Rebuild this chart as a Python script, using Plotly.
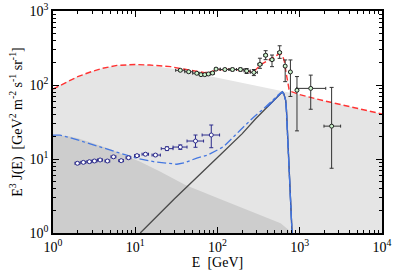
import plotly.graph_objects as go

# ---------------- data ----------------
# background (light grey area) upper edge
bg_E = [1, 1.5, 2, 3, 4, 6, 8, 10, 15, 20, 30, 40, 54, 100, 200, 400, 601, 775, 1000, 2000, 5000, 10000]
bg_v = [88, 112, 130, 153, 168, 183, 188, 188, 183, 176, 165, 154, 144, 125, 107, 92, 84, 80, 74, 61, 48, 40.6]

# secondary component (dark grey area) upper edge
sec_E = [1, 1.5, 2, 3, 5, 8, 11.5, 20, 40.7, 100, 200, 400, 585, 735, 800]
sec_v = [21, 20.5, 19, 16.5, 13.5, 10.8, 9.2, 6.8, 4.46, 2.98, 2.18, 1.6, 1.35, 1.1, 0.9]

# total model (red dashed)
tot_E = [1, 1.5, 2, 3, 4, 6, 8, 10, 15, 20, 27, 35, 47, 60, 70, 85, 100, 130, 170, 210, 250, 290, 340,
         400, 460, 520, 570, 620, 650, 680, 710, 740, 775, 1000, 2000, 5000, 10000]
tot_v = [88, 112, 130, 153, 168, 184, 189, 189, 186, 182, 177, 167, 158, 150, 147, 152, 160, 163, 162, 156,
         151, 160, 190, 210, 232, 252, 266, 245, 210, 150, 115, 88, 82, 74, 61, 48, 40.6]

# dark-matter component (solid lines)
dm_E = [11.5, 30, 100, 200, 291, 400, 500, 560, 590, 615, 640, 660, 675, 690, 706, 725, 755, 794, 830]
dm_v = [1, 2.9, 10.5, 22, 35, 50, 64, 74, 79, 81, 76, 69, 62, 45, 25, 12, 5.2, 1.2, 0.5]

# positron model (blue dash-dot)
pos_E = [1, 1.22, 1.6, 2.34, 3.5, 6, 10.5, 16.7, 24.3, 32, 40, 56, 75, 119, 190, 277, 350, 450, 530,
         580, 615, 650, 680, 706, 730, 760, 790, 830]
pos_v = [21, 21, 19.5, 17.1, 14.8, 12.5, 10.2, 9.2, 8.75, 8.5, 8.9, 10.3, 11.2, 14.7, 24.7, 37, 46, 60, 71,
         78, 80, 72, 58, 25, 10, 4, 1.3, 0.5]

# upper data set (electrons + positrons)
ud_E = [35.3, 44.6, 56, 63, 70, 77.5, 87, 96, 123, 152, 190, 226, 277, 328, 385, 460, 570, 665, 770, 925, 1360, 2440]
ud_v = [158, 151, 144, 138, 138, 141, 145, 164, 162, 162, 162, 155, 148, 190, 252, 220, 275, 180, 150, 85, 90, 27.8]
ud_lo = [31, 40, 50, 60, 66.5, 74, 82, 92, 108, 138, 170, 210, 250, 310, 365, 435, 540, 640, 745, 890, 920, 1970]
ud_hi = [40, 50, 60, 66.5, 74, 82, 92, 108, 138, 170, 210, 250, 305, 348, 405, 485, 600, 690, 795, 960, 2070, 3140]
ud_ep = [5, 5, 4, 4, 4, 4, 5, 6, 6, 7, 8, 12, 14, 40, 39, 34, 64, 38, 68, 45, 46, 65]
ud_em = [5, 5, 4, 4, 4, 4, 5, 6, 6, 7, 8, 12, 14, 22, 32, 43, 46, 69, 80, 61, 43, 20.3]

# lower data set (positrons)
ld_E = [1.98, 2.34, 2.77, 3.19, 3.74, 4.59, 5.44, 6.75, 8.28, 10.5, 13.3, 17.6, 24.3, 35.3, 54, 84]
ld_v = [8.75, 9.0, 9.2, 9.4, 9.7, 9.4, 10.7, 9.5, 10.4, 11.1, 11.6, 11.3, 13.8, 14.5, 17.5, 21.1]
ld_lo = [1.85, 2.18, 2.58, 2.98, 3.48, 4.28, 5.07, 6.3, 7.73, 9.8, 12.1, 16, 20.7, 28.8, 42.6, 65]
ld_hi = [2.12, 2.5, 2.96, 3.42, 4.0, 4.9, 5.82, 7.2, 8.85, 11.2, 14.5, 20.2, 28.8, 42.6, 67.7, 106]
ld_ep = [0.3, 0.3, 0.3, 0.3, 0.3, 0.3, 0.35, 0.3, 0.35, 0.35, 0.4, 0.4, 0.8, 1.0, 3.6, 7.7]
ld_em = [0.3, 0.3, 0.3, 0.3, 0.3, 0.3, 0.35, 0.3, 0.35, 0.35, 0.4, 0.4, 0.8, 1.0, 3.1, 6.9]

tick_vals = [1, 10, 100, 1000, 10000]
x_tick_text = ["10<sup>0</sup>", "10<sup>1</sup>", "10<sup>2</sup>", "10<sup>3</sup>", "10<sup>4</sup>"]
y_tick_vals = [1, 10, 100, 1000]
y_tick_text = ["10<sup>0</sup>", "10<sup>1</sup>", "10<sup>2</sup>", "10<sup>3</sup>"]

FLOOR = 0.1
fig = go.Figure()

# light grey background area
fig.add_trace(go.Scatter(
    x=[bg_E[0]] + bg_E + [bg_E[-1]], y=[FLOOR] + bg_v + [FLOOR],
    fill="toself", fillcolor="#e5e5e5", mode="lines", line=dict(width=0),
    hoverinfo="skip", showlegend=False))
# dark grey secondary area
fig.add_trace(go.Scatter(
    x=[sec_E[0]] + sec_E + [sec_E[-1]], y=[FLOOR] + sec_v + [FLOOR],
    fill="toself", fillcolor="#cdcdcd", mode="lines", line=dict(width=0),
    hoverinfo="skip", showlegend=False))
# dark matter component lines
fig.add_trace(go.Scatter(x=dm_E, y=dm_v, mode="lines",
                         line=dict(color="#4a4a4a", width=1.3), showlegend=False))
fig.add_trace(go.Scatter(x=dm_E[5:], y=dm_v[5:], mode="lines",
                         line=dict(color="#3a63c8", width=1.3), showlegend=False))
# positron model
fig.add_trace(go.Scatter(x=pos_E, y=pos_v, mode="lines",
                         line=dict(color="#4477e0", width=1.3, dash="dashdot"), showlegend=False))
# total model
fig.add_trace(go.Scatter(x=tot_E, y=tot_v, mode="lines",
                         line=dict(color="#ff3333", width=1.4, dash="6px,3px"), showlegend=False))
# lower data
fig.add_trace(go.Scatter(
    x=ld_E, y=ld_v, mode="markers",
    marker=dict(symbol="circle", size=4, color="white", line=dict(color="#2c2c8c", width=1)),
    error_x=dict(type="data", symmetric=False,
                 array=[h - e for h, e in zip(ld_hi, ld_E)],
                 arrayminus=[e - l for l, e in zip(ld_lo, ld_E)],
                 color="#2c2c8c", thickness=1, width=1.5),
    error_y=dict(type="data", symmetric=False, array=ld_ep, arrayminus=ld_em,
                 color="#2c2c8c", thickness=1, width=2),
    showlegend=False))
# upper data
fig.add_trace(go.Scatter(
    x=ud_E, y=ud_v, mode="markers",
    marker=dict(symbol="circle", size=4, color="#ccf5cc", line=dict(color="#222222", width=1)),
    error_x=dict(type="data", symmetric=False,
                 array=[h - e for h, e in zip(ud_hi, ud_E)],
                 arrayminus=[e - l for l, e in zip(ud_lo, ud_E)],
                 color="#333333", thickness=1, width=1.5),
    error_y=dict(type="data", symmetric=False, array=ud_ep, arrayminus=ud_em,
                 color="#333333", thickness=1, width=2),
    showlegend=False))

font_family = "Liberation Serif, Times New Roman, serif"
axis_common = dict(
    type="log", showgrid=False, zeroline=False,
    showline=True, linecolor="black", linewidth=1.5, mirror="ticks",
    ticks="inside", ticklen=6, tickwidth=1, tickcolor="black",
    minor=dict(ticks="inside", ticklen=3, tickwidth=1, tickcolor="black", dtick="D1", showgrid=False),
    tickfont=dict(family=font_family, size=14, color="black"),
    automargin=False,
)
fig.update_xaxes(**axis_common, range=[0, 4], tickvals=tick_vals, ticktext=x_tick_text,
                 title=dict(text="E  [GeV]", font=dict(family=font_family, size=14, color="black"),
                            standoff=2))
fig.update_yaxes(**axis_common, range=[0, 3], tickvals=y_tick_vals, ticktext=y_tick_text,
                 title=dict(text="E<sup>3</sup> J(E)  [GeV<sup>2</sup> m<sup>-2</sup> s<sup>-1</sup> sr<sup>-1</sup>]",
                            font=dict(family=font_family, size=14, color="black"), standoff=4))
fig.update_layout(
    width=395, height=272,
    margin=dict(l=53, r=13, t=11, b=39),
    paper_bgcolor="white", plot_bgcolor="white",
    font=dict(family=font_family, color="black"),
)
fig.write_html("out.html", config={"displayModeBar": False})

# remove the default page margin so the figure sits at the window's top-left corner
with open("out.html", "r", encoding="utf-8") as f:
    html = f.read()
html = html.replace("<head>", "<head><style>html,body{margin:0;padding:0;overflow:hidden;}</style>", 1)
with open("out.html", "w", encoding="utf-8") as f:
    f.write(html)
